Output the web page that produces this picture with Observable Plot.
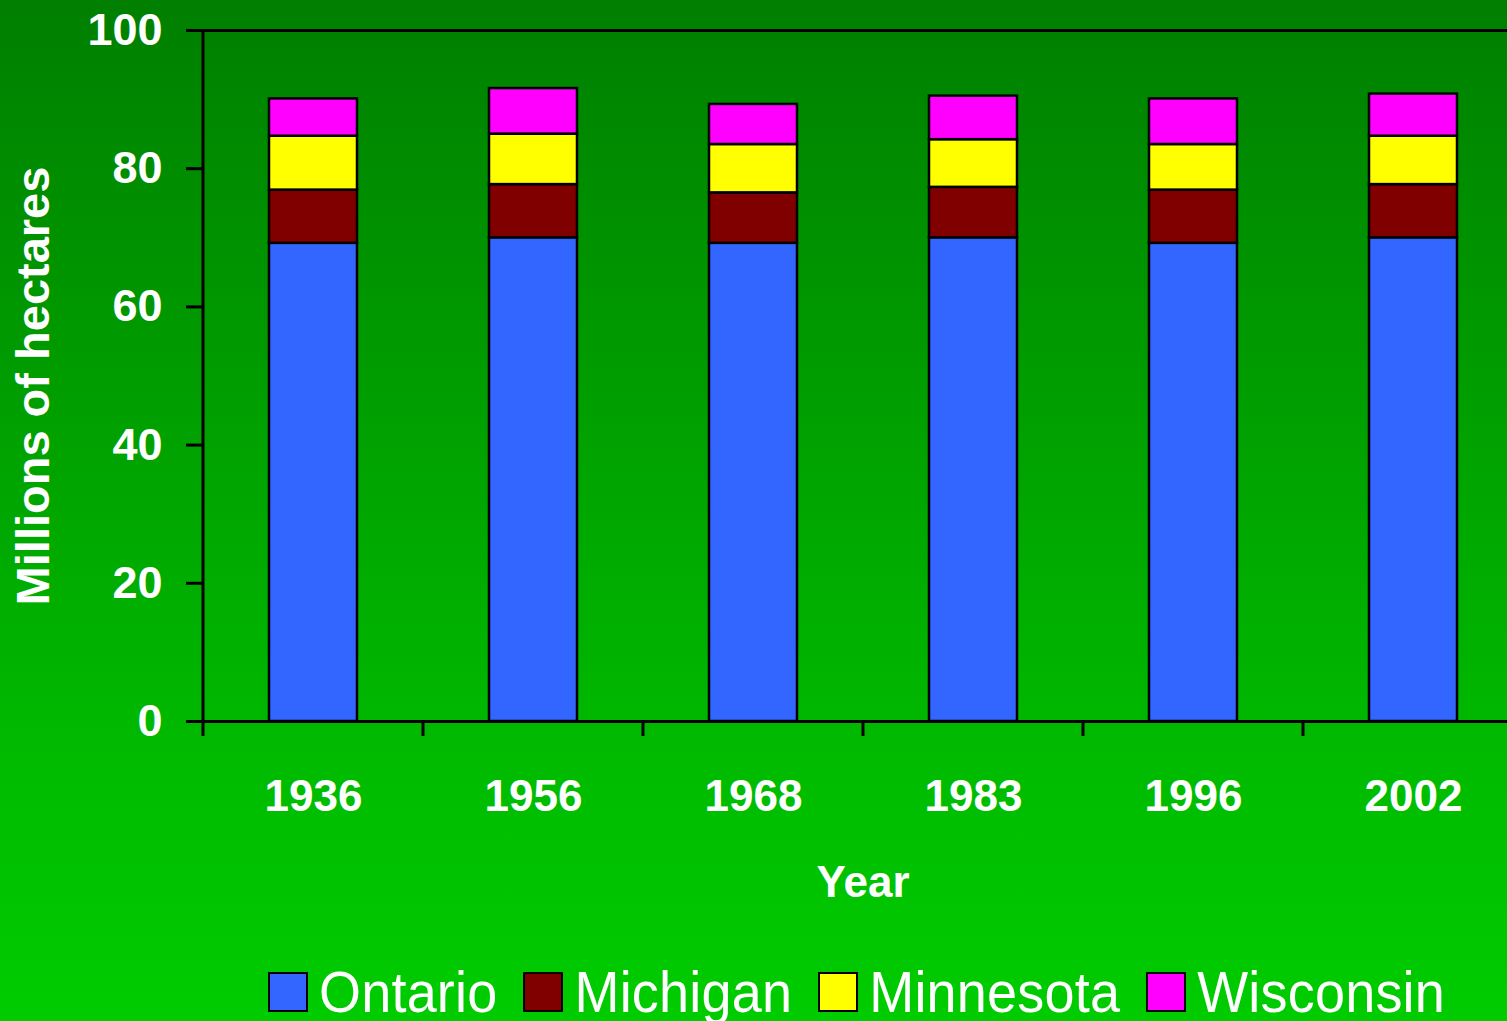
<!DOCTYPE html>
<html>
<head>
<meta charset="utf-8">
<script src="https://cdn.jsdelivr.net/npm/d3@7"></script>
<script src="https://cdn.jsdelivr.net/npm/@observablehq/plot@0.6"></script>
<style>
  html, body { margin: 0; padding: 0; overflow: hidden; }
  #wrap {
    position: relative; width: 1507px; height: 1021px; overflow: hidden;
    background: linear-gradient(to bottom, #007f00 0%, #00bb00 75%, #00cc00 100%);
    font-family: "Liberation Sans", Arial, sans-serif;
  }
  #chart svg { max-width: none !important; height: 930px !important; }
  #legend {
    position: absolute; left: 268px; top: 970px; display: flex; align-items: center;
  }
  .sw { width: 36px; height: 36px; border: 2px solid #000; margin-right: 11px; }
  .lb { color: #fff; font-size: 54px; line-height: 44px; margin-right: 26px; display: inline-block; transform: scaleY(1.06); letter-spacing: 0.2px; }
</style>
</head>
<body>
<div id="wrap"><div id="chart"></div><div id="legend"></div></div>
<script>
const years = ["1936", "1956", "1968", "1983", "1996", "2002"];
const states = ["Ontario", "Michigan", "Minnesota", "Wisconsin"];
const ontario   = [69.2, 70.0, 69.2, 70.0, 69.2, 70.0];
const michigan  = [7.7, 7.7, 7.3, 7.3, 7.7, 7.7];
const minnesota = [7.8, 7.3, 7.0, 6.9, 6.6, 7.0];
const wisconsin = [5.4, 6.6, 5.8, 6.3, 6.6, 6.1];
const colors = ["#3366FF", "#800000", "#FFFF00", "#FF00FF"];
const yTicks = [0, 20, 40, 60, 80, 100];
const xTitle = "Year";
const yTitle = "Millions of hectares";

const series = [ontario, michigan, minnesota, wisconsin];
const data = years.flatMap((yr, i) => states.map((s, j) => ({year: yr, state: s, value: series[j][i]})));

const PAD_OUT = 0.3;
function xTickMarks(index, scales, values, dimensions) {
  const g = d3.create("svg:g");
  const x = scales.x, y = scales.y;
  const step = x(years[1]) - x(years[0]);
  const y0 = y(0);
  const left = x(years[0]) - PAD_OUT * step;
  g.append("line").attr("x1", left).attr("x2", left).attr("y1", y(100)).attr("y2", y0)
    .attr("stroke", "black").attr("stroke-width", 3);
  for (const yr of years) {
    const xb = x(yr) - PAD_OUT * step;
    g.append("line").attr("x1", xb).attr("x2", xb).attr("y1", y0).attr("y2", y0 + 15)
      .attr("stroke", "black").attr("stroke-width", 3);
  }
  return g.node();
}

const chart = Plot.plot({
  width: 1523, height: 930,
  marginLeft: 202, marginRight: 0, marginTop: 30, marginBottom: 209,
  style: {background: "transparent", fontFamily: "'Liberation Sans', Arial, sans-serif", overflow: "visible", maxWidth: "none"},
  x: {domain: years, paddingInner: 0.6, paddingOuter: PAD_OUT},
  y: {domain: [0, 100]},
  color: {domain: states, range: colors},
  marks: [
    Plot.barY(data, {x: "year", y: "value", fill: "state", stroke: "black", strokeWidth: 2.5}),
    Plot.ruleY([100], {stroke: "black", strokeWidth: 3}),
    Plot.ruleY([0], {stroke: "black", strokeWidth: 3}),
    Plot.axisY({ticks: yTicks, tickSize: 16, tickPadding: 24, stroke: "black", strokeWidth: 3, fill: "white",
      fontSize: 45, fontWeight: "bold", label: null}),
    Plot.axisX({tickSize: 0, tickPadding: 58, fill: "white", fontSize: 44, fontWeight: "bold", label: null}),
    xTickMarks,
    Plot.text([xTitle], {frameAnchor: "bottom", lineAnchor: "middle", dy: 161, fontSize: 44, fontWeight: "bold", fill: "white"}),
    Plot.text([yTitle], {frameAnchor: "left", textAnchor: "middle", lineAnchor: "middle", rotate: -90, dx: -169, dy: 10, fontSize: 47, fontWeight: "bold", fill: "white"})
  ]
});
document.getElementById("chart").appendChild(chart);

const legend = document.getElementById("legend");
states.forEach((s, i) => {
  const sw = document.createElement("div");
  sw.className = "sw"; sw.style.background = colors[i];
  const lb = document.createElement("span");
  lb.className = "lb"; lb.textContent = s;
  legend.appendChild(sw); legend.appendChild(lb);
});
</script>
</body>
</html>
